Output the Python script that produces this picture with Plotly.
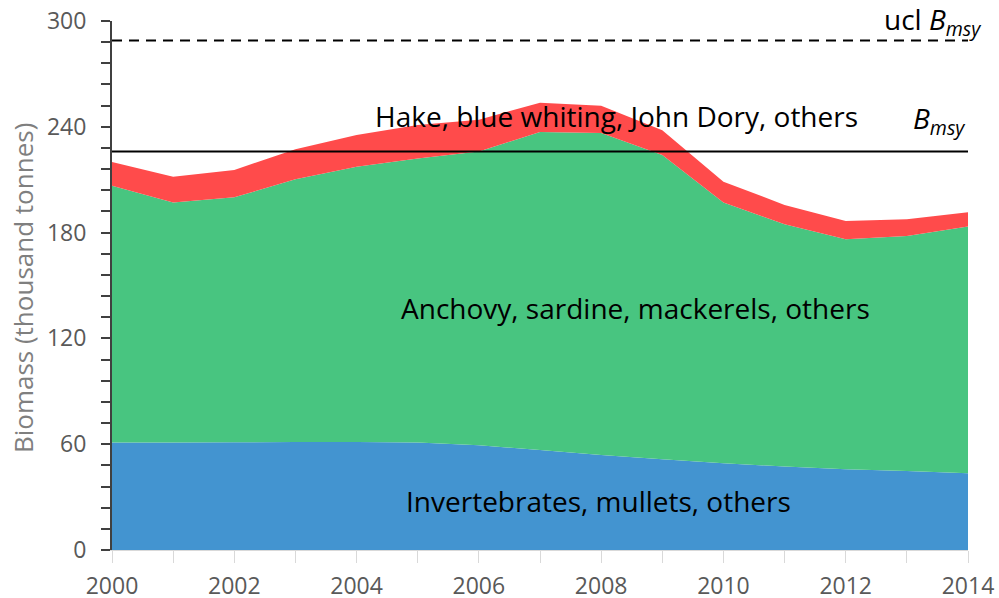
import plotly.graph_objects as go

years = list(range(2000, 2015))
invertebrates = [60.9, 61.0, 61.1, 61.2, 61.3, 60.9, 59.4, 56.7, 53.9, 51.4, 49.2, 47.3, 45.8, 44.8, 43.5]
pelagics = [145.6, 136.0, 138.9, 149.1, 156.1, 161.1, 166.6, 180.3, 182.6, 172.6, 147.8, 137.4, 130.4, 133.3, 139.9]
demersals = [13.5, 14.7, 15.5, 17.0, 18.0, 19.0, 18.0, 16.7, 15.5, 14.0, 11.9, 11.0, 10.4, 9.5, 8.1]
bmsy = 226
ucl_bmsy = 289

FONT = "Open Sans"

fig = go.Figure()
fig.add_trace(go.Scatter(x=years, y=invertebrates, stackgroup="one", mode="none",
                         fillcolor="#4394D0", name="Invertebrates, mullets, others"))
fig.add_trace(go.Scatter(x=years, y=pelagics, stackgroup="one", mode="none",
                         fillcolor="#48C580", name="Anchovy, sardine, mackerels, others"))
fig.add_trace(go.Scatter(x=years, y=demersals, stackgroup="one", mode="none",
                         fillcolor="#FF4B4B", name="Hake, blue whiting, John Dory, others"))

fig.add_shape(type="line", xref="x", yref="y", x0=years[0], x1=years[-1], y0=bmsy, y1=bmsy,
              line=dict(color="black", width=2))
fig.add_shape(type="line", xref="x", yref="y", x0=years[0], x1=years[-1] + 0.03, y0=ucl_bmsy, y1=ucl_bmsy,
              line=dict(color="black", width=2, dash="10px,7px"))

ann_font = dict(family=FONT, size=28, color="black")
fig.add_annotation(x=0.589, y=0.821, xref="paper", yref="paper", text="Hake, blue whiting, John Dory, others",
                   showarrow=False, font=ann_font, yanchor="middle")
fig.add_annotation(x=0.612, y=0.458, xref="paper", yref="paper", text="Anchovy, sardine, mackerels, others",
                   showarrow=False, font=ann_font, yanchor="middle")
fig.add_annotation(x=0.568, y=0.093, xref="paper", yref="paper", text="Invertebrates, mullets, others",
                   showarrow=False, font=ann_font, yanchor="middle")
fig.add_annotation(x=1.018, y=1.0, xref="paper", yref="paper", text="ucl <i>B</i><sub><i>msy</i></sub>",
                   showarrow=False, font=ann_font, xanchor="right", yanchor="middle")
fig.add_annotation(x=0.999, y=0.812, xref="paper", yref="paper", text="<i>B</i><sub><i>msy</i></sub>",
                   showarrow=False, font=ann_font, xanchor="right", yanchor="middle")
# y-axis title placed as rotated text
fig.add_annotation(x=-0.104, y=0.495, xref="paper", yref="paper", text="Biomass (thousand tonnes)",
                   showarrow=False, textangle=-90, xanchor="center", yanchor="middle",
                   font=dict(family=FONT, size=26, color="#7F7F7F"))

fig.update_layout(
    width=999, height=598,
    margin=dict(l=112, r=31, t=21, b=48),
    plot_bgcolor="white", paper_bgcolor="white",
    showlegend=False,
    font=dict(family=FONT, color="#595959"),
)
fig.update_xaxes(
    range=[2000, 2014], tick0=2000, dtick=2, showgrid=False, zeroline=False, automargin=False,
    ticks="outside", ticklen=12, tickcolor="#D9D9D9", tickwidth=1,
    showline=True, linecolor="#D9D9D9", linewidth=1, ticklabeloverflow="allow",
    tickfont=dict(family=FONT, size=23, color="#595959"), ticklabelstandoff=3,
    minor=dict(dtick=1, ticks="outside", ticklen=12, tickcolor="#D9D9D9", tickwidth=1),
)
fig.update_yaxes(
    range=[0, 300], tick0=0, dtick=60, showgrid=False, zeroline=False, automargin=False,
    ticks="outside", ticklen=9, tickcolor="#404040", tickwidth=1.5,
    showline=True, linecolor="#404040", linewidth=2, ticklabeloverflow="allow",
    tickfont=dict(family=FONT, size=23, color="#595959"), ticklabelstandoff=10,
    minor=dict(dtick=12, ticks="outside", ticklen=9, tickcolor="#404040", tickwidth=1.5),
)

# remove the page's default 8px body margin so the 999x598 figure fills the window exactly
fig.write_html("out.html", config={"displayModeBar": False},
               post_script="document.body.style.margin='0';document.body.style.overflow='hidden';")
